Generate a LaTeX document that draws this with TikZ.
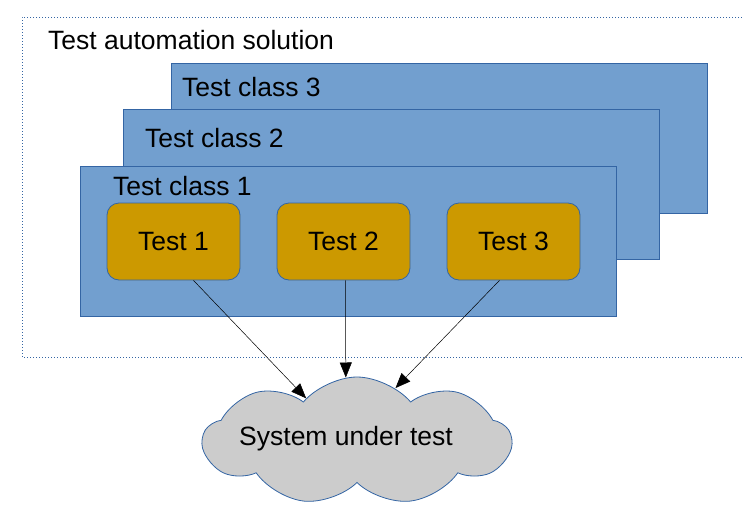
\documentclass[tikz,border=0pt]{standalone}
\usepackage{fontspec}
\setmainfont{Liberation Sans}
\usetikzlibrary{arrows.meta,shapes.symbols,positioning}
\definecolor{boxblue}{HTML}{729FCF}
\definecolor{edgeblue}{HTML}{3465A4}
\definecolor{testgold}{HTML}{CC9900}
\definecolor{cloudgray}{HTML}{CCCCCC}

\begin{document}
\begin{tikzpicture}[
x=1pt, y=-1pt,
every node/.style={font=\fontsize{26.5}{31}\selectfont, text=black},
classbox/.style={rectangle, draw=edgeblue, fill=boxblue, line width=1pt, minimum width=536pt, minimum height=150pt},
testbox/.style={rectangle, rounded corners=12pt, draw=edgeblue, fill=testgold, line width=0.8pt, minimum width=133pt, minimum height=77pt},
labeltext/.style={anchor=west, inner sep=0pt},
sutcloud/.style={cloud, cloud puffs=9, cloud puff arc=100, cloud ignores aspect, draw=edgeblue, fill=cloudgray, line width=0.8pt, minimum width=308pt, minimum height=128pt, inner sep=0pt},
callarrow/.style={-{Triangle[length=15pt,width=12pt]}, line width=0.5pt, black}
]
    \useasboundingbox (0,0) rectangle (742,520);

    \draw[edgeblue, line width=0.8pt, dash pattern=on 1pt off 2pt] (742,17) -- (22,17) -- (22,357) -- (742,357);
    \node[labeltext] (solution) at (48,40) {Test automation solution};

    \node[classbox] (class3) at (439.5,138) {};
    \node[labeltext] (class3label) at (182,87) {Test class 3};
    \node[classbox] (class2) at (391,184.5) {};
    \node[labeltext] (class2label) at (145,138) {Test class 2};
    \node[classbox] (class1) at (348,241) {};
    \node[labeltext] (class1label) at (113,186) {Test class 1};

    \node[testbox] (test1) at (173.5,241.5) {Test 1};
    \node[testbox] (test2) at (343.5,241.5) {Test 2};
    \node[testbox] (test3) at (513.5,241.5) {Test 3};

    \node[sutcloud] (sut) at (357,441) {};
    \node[inner sep=0pt] (sutlabel) at (346,439) {System under test};

    \draw[callarrow] ([xshift=20pt]test1.south) -- (sut.140);
    \draw[callarrow] ([xshift=2pt]test2.south) -- (sut.100);
    \draw[callarrow] ([xshift=-14pt]test3.south) -- (sut.54);
\end{tikzpicture}
\end{document}
